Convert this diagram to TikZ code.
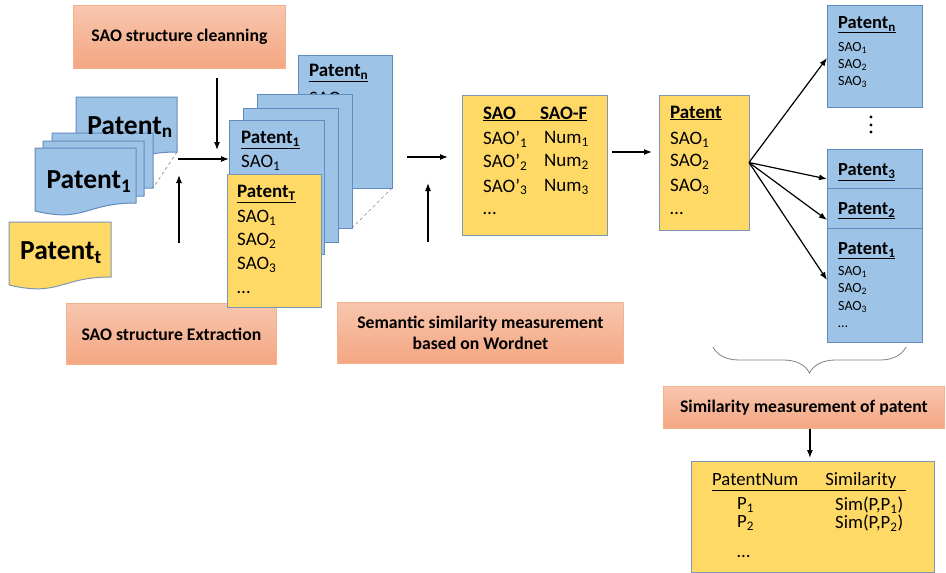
\documentclass[tikz,border=0pt]{standalone}
\usepackage{fontspec}
\setmainfont{Carlito}
\usetikzlibrary{positioning,calc,arrows.meta,decorations.pathreplacing}
\definecolor{bluefill}{RGB}{157,195,230}
\definecolor{blueline}{RGB}{98,140,190}
\definecolor{yelfill}{RGB}{255,217,102}
\definecolor{yelline}{RGB}{125,150,178}
\definecolor{orgtop}{RGB}{248,198,174}
\definecolor{orgbot}{RGB}{244,166,130}
\definecolor{orgline}{RGB}{245,176,140}
\tikzset{
  procbox/.style={draw=orgline, line width=0.8pt, top color=orgtop, bottom color=orgbot,
    font=\fontsize{17.7}{21}\selectfont\bfseries, align=center, inner sep=0pt, anchor=north west},
  card/.style={draw=blueline, line width=1pt, fill=bluefill, inner sep=0pt, outer sep=0pt, anchor=north west},
  ycard/.style={card, draw=yelline, fill=yelfill},
  docline/.style={draw=blueline, line width=1pt},
  stackdash/.style={draw=gray, dashed, line width=0.6pt},
  rowtext/.style={anchor=west, inner sep=0pt, font=\fontsize{19}{21}\selectfont},
  cardlabel/.style={anchor=west, inner sep=0pt, font=\fontsize{18.5}{20}\selectfont\bfseries},
  smalltext/.style={anchor=west, inner sep=0pt, font=\fontsize{14}{16}\selectfont},
  restext/.style={anchor=west, inner sep=0pt, font=\fontsize{18.7}{20}\selectfont},
  doctext/.style={inner sep=0pt, font=\fontsize{27.5}{30}\selectfont\bfseries},
  arrow/.style={-{Latex[length=8pt,width=6pt]}, line width=1.2pt},
  bracestyle/.style={draw=gray, line width=0.8pt, decorate,
    decoration={brace, mirror, amplitude=26pt}}
}
\begin{document}
\begin{tikzpicture}[x=1pt,y=-1pt]
\useasboundingbox (0,0) rectangle (946,573);

% process steps
\node[procbox, minimum width=212, minimum height=63] (clean) at (73,5) {SAO structure cleanning};
\node[procbox, minimum width=210, minimum height=61] (extract) at (66,303) {SAO structure Extraction};
\node[procbox, minimum width=286, minimum height=61] (wordnet) at (337,302)
  {Semantic similarity measurement\\based on Wordnet};
\node[procbox, minimum width=281, minimum height=42] (simpat) at (663,386) {Similarity measurement of patent};

% input documents
\foreach \nm/\px/\py in {ln/76/97, l2/52/133, l1/43/141, lf/35/148}{
  \begin{scope}[shift={(\px,\py)}]
    \draw[docline, fill=bluefill] (0,0) -- (101,0) -- (101,55) coordinate (\nm-se)
      .. controls (50,55) and (50,75) .. (0,63) -- cycle;
  \end{scope}
}
\draw[stackdash] (ln-se) -- (l2-se);
\begin{scope}[shift={(9,222)}]
  \draw[docline, draw=yelline, fill=yelfill] (0,0) -- (102,0) -- (102,55)
    .. controls (51,55) and (51,75) .. (0,63) -- cycle;
\end{scope}
\node[doctext] (ln-t) at (130,127) {Patent\textsubscript{n}};
\node[doctext] (lf-t) at (89,182) {Patent\textsubscript{1}};
\node[doctext] (lt-t) at (61,253) {Patent\textsubscript{t}};

% extracted SAO stack
\node[card, minimum width=94, minimum height=133] (mn) at (298,55) {};
\node[rowtext] at (309,73) {\textbf{\underline{Patent\textsubscript{n}}}};
\node[rowtext] at (309,100) {SAO\textsubscript{1}};
\foreach \nm/\px/\py in {m3/257/94, m2/243/108, m1/229/120}
  \node[card, minimum width=95, minimum height=134] (\nm) at (\px,\py) {};
\draw[stackdash] (mn.south east) -- (m3.south east);
\node[rowtext] at (241,140) {\textbf{\underline{Patent\textsubscript{1}}}};
\node[rowtext] at (241,163) {SAO\textsubscript{1}};
\node[ycard, minimum width=94, minimum height=133] (mt) at (227,174) {};
\node[rowtext] at (237,194) {\textbf{\underline{Patent\textsubscript{T}}}};
\foreach \i/\yy in {1/218, 2/241, 3/265}
  \node[rowtext] at (237,\yy) {SAO\textsubscript{\i}};
\node[rowtext] at (237,292) {\ldots};

% SAO frequency table
\node[ycard, minimum width=145, minimum height=140] (sao) at (462,95) {};
\node[rowtext] (sao-h) at (483,114) {\underline{\textbf{SAO}\hspace{24pt}\textbf{SAO-F}}};
\foreach \i/\yy in {1/139, 2/162, 3/187}{
  \node[rowtext] at (483,\yy) {SAO\textquoteright\textsubscript{\i}};
  \node[rowtext] at (544,\yy) {Num\textsubscript{\i}};
}
\node[rowtext] at (483,213) {\ldots};

% target patent
\node[ycard, minimum width=90, minimum height=135] (pat) at (659,95) {};
\node[rowtext] at (670,113) {\textbf{\underline{Patent}}};
\foreach \i/\yy in {1/140, 2/162, 3/187}
  \node[rowtext] at (670,\yy) {SAO\textsubscript{\i}};
\node[rowtext] at (670,213) {\ldots};

% compared patents
\node[card, minimum width=95, minimum height=102] (rn) at (827,5) {};
\node[cardlabel] at (838,25) {\underline{Patent\textsubscript{n}}};
\foreach \i/\yy in {1/48, 2/65, 3/82}
  \node[smalltext] at (838,\yy) {SAO\textsubscript{\i}};
\foreach \yy in {117,125,132}
  \fill (871,\yy) circle (1.6);
\foreach \nm/\py/\k in {r3/149/3, r2/188/2, r1/228/1}{
  \node[card, minimum width=95, minimum height=114] (\nm) at (827,\py) {};
  \node[cardlabel] at (838,\py+23) {\underline{Patent\textsubscript{\k}}};
}
\foreach \i/\yy in {1/272, 2/289, 3/307}
  \node[smalltext] at (838,\yy) {SAO\textsubscript{\i}};
\node[smalltext] at (838,327) {\ldots};

% similarity result
\node[ycard, minimum width=243, minimum height=111] (res) at (691,461) {};
\node[restext] at (712,482) {\underline{PatentNum\hspace{27pt}Similarity\hspace{10pt}}};
\foreach \i/\yy in {1/505, 2/523}{
  \node[restext] at (737,\yy) {P\textsubscript{\i}};
  \node[restext] at (835,\yy) {Sim(P,P\textsubscript{\i})};
}
\node[restext] at (737,557) {\ldots};

% connectors
\coordinate (lin) at (178,159);
\coordinate (cl-a) at (217,78);
\coordinate (cl-b) at (217,150);
\coordinate (ex-a) at (179,243);
\coordinate (ex-b) at (179,175);
\coordinate (min) at (407,157);
\coordinate (wn-a) at (428,242);
\coordinate (wn-b) at (428,183);
\draw[arrow] (lin) -- (lin -| m1.west);
\draw[arrow] (cl-a) -- (cl-b);
\draw[arrow] (ex-a) -- (ex-b);
\draw[arrow] (min) -- ++(41,0);
\draw[arrow] (wn-a) -- (wn-b);
\draw[arrow] ([shift={(5pt,13pt)}]sao.east) -- ++(40,0);
\draw[arrow] (pat.east) -- ([yshift=-2pt]rn.west);
\draw[arrow] (pat.east) -- ([yshift=-30pt]r3.north west);
\draw[arrow] (pat.east) -- ([yshift=-32pt]r2.north west);
\draw[arrow] (pat.east) -- ([yshift=-52pt]r1.north west);
\coordinate (br-a) at (713,347);
\coordinate (br-b) at (906,347);
\draw[bracestyle] (br-a) -- (br-b);
\draw[arrow, shorten >=3pt] ([xshift=6pt]simpat.south) -- ([xshift=6pt]simpat.south |- res.north);
\end{tikzpicture}
\end{document}
